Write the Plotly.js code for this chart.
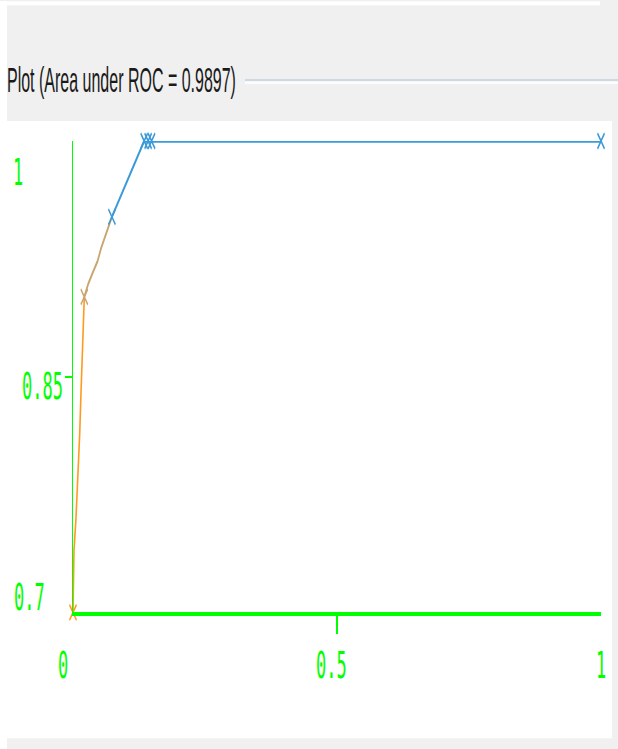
<!DOCTYPE html>
<html>
<head>
<meta charset="utf-8">
<script src="https://cdn.plot.ly/plotly-3.0.1.min.js"></script>
<style>
  html, body { margin: 0; padding: 0; background: #f0f0f0; width: 618px; height: 749px; overflow: hidden; }
  /* The panel is laid out at a compact height and stretched vertically. */
  #roc { width: 618px; height: 340px; transform: scaleY(2.20294); transform-origin: 0 0; }
</style>
</head>
<body>
<div id="roc"></div>
<script>
// ROC curve points (false positive rate, true positive rate), grouped by threshold band
const orangeFpr = [0, 0.0009, 0.0019, 0.0057, 0.0095, 0.0127, 0.0151, 0.0176, 0.0195, 0.0214];
const orangeTpr = [0.700, 0.7203, 0.7394, 0.7604, 0.7858, 0.8138, 0.8392, 0.8646, 0.8856, 0.9008];
const tanFpr = [0.0214, 0.0289, 0.0372, 0.0467, 0.0529, 0.0605, 0.0667, 0.0737];
const tanTpr = [0.9008, 0.9091, 0.9161, 0.9237, 0.9314, 0.9383, 0.9447, 0.9517];
const blueFpr = [0.0737, 0.1348, 0.1423, 0.1488, 1];
const blueTpr = [0.9517, 1, 1, 1, 1];

// Threshold points marked with a cross
const markFpr = [0, 0.0214, 0.0737, 0.1348, 0.1423, 0.1488, 1];
const markTpr = [0.7, 0.9008, 0.9517, 1, 1, 1, 1];

// Axis ticks
const xTickVals = [0, 0.5, 1];
const xTickText = ['0', '0.5', '1'];
const yTickVals = [0.7, 0.85, 1];
const yTickText = ['0.7', '0.85', '1'];

const plotTitle = 'Plot (Area under ROC = 0.9897)';

// ---- styling ----
const ORANGE = '#ff9a1f', TAN = '#c8a66e', BLUE = '#3b9ad8', GREEN = '#00ff00';
const markColor = [ORANGE, TAN, BLUE, BLUE, BLUE, BLUE, BLUE];

const W = 618, H = 340, S = 749 / 340;
const M = { l: 73, r: 17, t: 140 / S, b: H - 612 / S, pad: 0 };

// convert screen pixels (after stretching) to paper coordinates
const paperX = px => (px - M.l) / (W - M.l - M.r);
const paperY = py => (H - M.b - py / S) / (H - M.t - M.b);

function rect(x0, y0, x1, y1, color) {
  return { type: 'rect', xref: 'paper', yref: 'paper', layer: 'below',
    x0: paperX(x0), x1: paperX(x1), y0: paperY(y0), y1: paperY(y1),
    fillcolor: color, line: { width: 0 } };
}
function hline(x0, x1, y, color) {
  return { type: 'line', xref: 'paper', yref: 'paper', layer: 'below',
    x0: paperX(x0), x1: paperX(x1), y0: paperY(y), y1: paperY(y),
    line: { color: color, width: 1 } };
}

const lineTrace = (x, y, color) => ({
  type: 'scatter', mode: 'lines', x: x, y: y, cliponaxis: false,
  line: { color: color, width: 1.6 }, hoverinfo: 'skip'
});

const data = [
  lineTrace(orangeFpr, orangeTpr, ORANGE),
  lineTrace(tanFpr, tanTpr, TAN),
  lineTrace(blueFpr, blueTpr, BLUE),
  {
    type: 'scatter', mode: 'markers', x: markFpr, y: markTpr, cliponaxis: false,
    marker: { symbol: 'x-thin-open', size: 7, color: markColor,
              line: { color: markColor, width: 1.2 } },
    hoverinfo: 'skip'
  }
];

const labelFont = { family: 'DejaVu Sans Mono', size: 17, color: GREEN };
const xLabelShift = [-10, -6, 0];
const yLabelShift = [[-44, 6.6], [-30.3, -3.7], [-55, -13.6]];

const annotations = [];
xTickVals.forEach((v, i) => annotations.push({
  xref: 'x', yref: 'paper', x: v, y: 0, xshift: xLabelShift[i], yshift: -23.6,
  text: xTickText[i], showarrow: false, xanchor: 'center', yanchor: 'middle', font: labelFont
}));
yTickVals.forEach((v, i) => annotations.push({
  xref: 'paper', yref: 'y', x: 0, y: v, xshift: yLabelShift[i][0], yshift: yLabelShift[i][1],
  text: yTickText[i], showarrow: false, xanchor: 'center', yanchor: 'middle', font: labelFont
}));

const layout = {
  width: W, height: H, margin: M,
  paper_bgcolor: '#f0f0f0', plot_bgcolor: 'rgba(0,0,0,0)',
  showlegend: false,
  title: {
    text: plotTitle, xref: 'container', yref: 'container',
    x: 7 / W, xanchor: 'left', y: 1 - (80 / S) / H, yanchor: 'middle',
    font: { family: 'Liberation Sans', size: 16, color: '#1a1a1a' }
  },
  xaxis: {
    range: [0, 1], showgrid: false, zeroline: false,
    showline: true, linecolor: GREEN, linewidth: 1.6,
    tickmode: 'array', tickvals: [xTickVals[1]], ticks: 'outside',
    ticklen: 8, tickwidth: 1.5, tickcolor: GREEN, showticklabels: false, fixedrange: true
  },
  yaxis: {
    range: [0.7, 1], showgrid: false, zeroline: false,
    showline: true, linecolor: GREEN, linewidth: 1.5,
    tickmode: 'array', tickvals: [yTickVals[1]], ticks: 'outside',
    ticklen: 7, tickwidth: 1, tickcolor: GREEN, showticklabels: false, fixedrange: true
  },
  shapes: [
    rect(0, 0, 7, 749, '#ffffff'),
    rect(0, 0, 600, 4, '#ffffff'),
    rect(7, 120, 612, 738, '#ffffff'),
    hline(245, 618, 79, '#cfd9e1'),
    hline(245, 618, 81.5, '#ffffff')
  ],
  annotations: annotations
};

Plotly.newPlot('roc', data, layout, { displayModeBar: false, staticPlot: true });
</script>
</body>
</html>
